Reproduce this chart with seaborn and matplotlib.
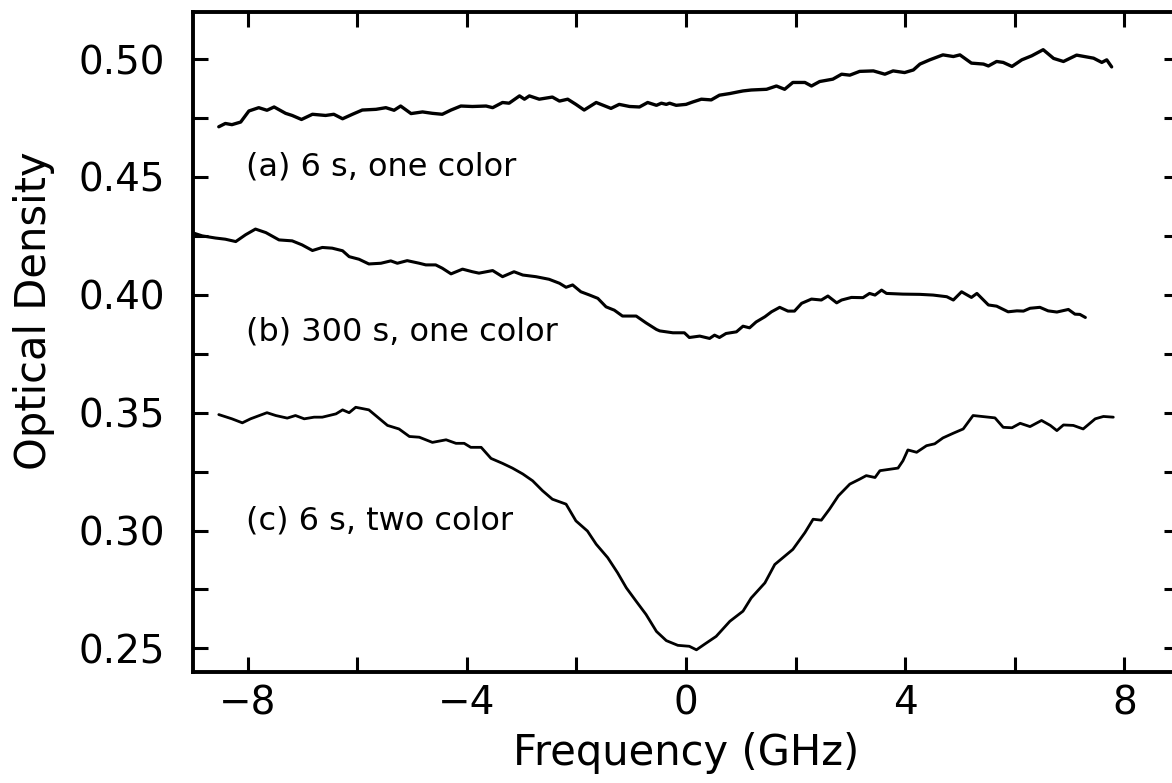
import seaborn as sns
import matplotlib.pyplot as plt
from matplotlib.ticker import MultipleLocator, FormatStrFormatter
import pandas as pd

# curve (a) 6 s, one color
freq_a = [-8.53, -8.41, -8.29, -8.13, -7.98, -7.80, -7.65, -7.52, -7.31, -7.19,
          -7.02, -6.82, -6.58, -6.43, -6.27, -6.09, -5.91, -5.66, -5.48, -5.33,
          -5.21, -5.02, -4.81, -4.63, -4.45, -4.29, -4.11, -3.90, -3.65, -3.53,
          -3.35, -3.23, -3.04, -2.95, -2.86, -2.68, -2.44, -2.31, -2.16, -2.01,
          -1.86, -1.64, -1.37, -1.22, -1.03, -0.85, -0.70, -0.54, -0.45, -0.36,
          -0.30, -0.18, 0.00, 0.12, 0.28, 0.46, 0.61, 0.80, 0.95, 1.04,
          1.19, 1.47, 1.65, 1.80, 1.95, 2.17, 2.29, 2.44, 2.68, 2.84,
          2.99, 3.17, 3.42, 3.63, 3.78, 3.99, 4.15, 4.27, 4.45, 4.69,
          4.88, 5.00, 5.21, 5.43, 5.52, 5.67, 5.79, 5.95, 6.13, 6.31,
          6.52, 6.71, 6.89, 7.13, 7.44, 7.59, 7.68, 7.77]
od_a = [0.4713, 0.4727, 0.4722, 0.4733, 0.4780, 0.4794, 0.4783, 0.4797, 0.4770, 0.4761,
        0.4744, 0.4766, 0.4761, 0.4766, 0.4747, 0.4766, 0.4784, 0.4787, 0.4794, 0.4783,
        0.4801, 0.4769, 0.4776, 0.4770, 0.4766, 0.4784, 0.4801, 0.4799, 0.4801, 0.4794,
        0.4816, 0.4813, 0.4844, 0.4830, 0.4844, 0.4830, 0.4839, 0.4822, 0.4830, 0.4808,
        0.4784, 0.4816, 0.4791, 0.4808, 0.4799, 0.4797, 0.4816, 0.4804, 0.4813, 0.4808,
        0.4813, 0.4804, 0.4808, 0.4818, 0.4830, 0.4827, 0.4847, 0.4854, 0.4861, 0.4865,
        0.4869, 0.4872, 0.4886, 0.4872, 0.4901, 0.4901, 0.4886, 0.4905, 0.4915, 0.4936,
        0.4932, 0.4948, 0.4950, 0.4936, 0.4950, 0.4943, 0.4954, 0.4979, 0.4997, 0.5018,
        0.5011, 0.5018, 0.4983, 0.4979, 0.4971, 0.4990, 0.4986, 0.4969, 0.4997, 0.5014,
        0.5040, 0.5003, 0.4990, 0.5017, 0.5004, 0.4986, 0.4997, 0.4967]

# curve (b) 300 s, one color
freq_b = [-8.99, -8.83, -8.59, -8.41, -8.22, -8.04, -7.86, -7.67, -7.43, -7.19,
          -7.01, -6.82, -6.64, -6.46, -6.27, -6.15, -5.97, -5.79, -5.57, -5.39,
          -5.27, -5.09, -4.87, -4.75, -4.57, -4.45, -4.29, -4.08, -3.90, -3.78,
          -3.53, -3.35, -3.14, -2.98, -2.74, -2.50, -2.31, -2.19, -2.07, -1.92,
          -1.76, -1.61, -1.46, -1.31, -1.16, -0.91, -0.73, -0.54, -0.48, -0.24,
          -0.03, 0.06, 0.25, 0.43, 0.52, 0.61, 0.73, 0.92, 1.04, 1.16,
          1.28, 1.44, 1.56, 1.71, 1.86, 1.98, 2.11, 2.29, 2.47, 2.59,
          2.75, 2.84, 3.02, 3.23, 3.35, 3.45, 3.57, 3.66, 3.96, 4.27,
          4.51, 4.76, 4.88, 5.03, 5.21, 5.31, 5.52, 5.67, 5.88, 6.04,
          6.16, 6.28, 6.46, 6.61, 6.77, 6.98, 7.10, 7.19, 7.29]
od_b = [0.4262, 0.4250, 0.4241, 0.4236, 0.4226, 0.4255, 0.4279, 0.4264, 0.4233, 0.4229,
        0.4212, 0.4188, 0.4201, 0.4198, 0.4187, 0.4162, 0.4151, 0.4131, 0.4134, 0.4144,
        0.4134, 0.4145, 0.4134, 0.4127, 0.4127, 0.4113, 0.4089, 0.4109, 0.4098, 0.4092,
        0.4103, 0.4077, 0.4098, 0.4084, 0.4077, 0.4066, 0.4049, 0.4032, 0.4042, 0.4013,
        0.3999, 0.3985, 0.3949, 0.3935, 0.3910, 0.3910, 0.3881, 0.3853, 0.3847, 0.3839,
        0.3839, 0.3819, 0.3825, 0.3815, 0.3829, 0.3819, 0.3836, 0.3843, 0.3867, 0.3860,
        0.3885, 0.3907, 0.3928, 0.3947, 0.3931, 0.3931, 0.3964, 0.3982, 0.3978, 0.3995,
        0.3966, 0.3978, 0.3989, 0.3988, 0.4006, 0.3999, 0.4020, 0.4006, 0.4003, 0.4002,
        0.3999, 0.3992, 0.3978, 0.4013, 0.3989, 0.4006, 0.3957, 0.3952, 0.3928, 0.3932,
        0.3931, 0.3943, 0.3947, 0.3932, 0.3927, 0.3938, 0.3918, 0.3917, 0.3904]

# curve (c) 6 s, two color
freq_c = [-8.53, -8.29, -8.10, -7.95, -7.65, -7.49, -7.28, -7.13, -6.97, -6.79,
          -6.64, -6.39, -6.27, -6.15, -6.03, -5.79, -5.63, -5.45, -5.24, -5.05,
          -4.87, -4.63, -4.38, -4.20, -4.05, -3.93, -3.74, -3.56, -3.35, -3.17,
          -2.98, -2.80, -2.62, -2.44, -2.19, -2.01, -1.80, -1.64, -1.43, -1.25,
          -1.09, -0.91, -0.73, -0.54, -0.36, -0.15, 0.06, 0.19, 0.34, 0.55,
          0.80, 1.04, 1.19, 1.44, 1.62, 1.95, 2.17, 2.32, 2.47, 2.62,
          2.78, 2.99, 3.17, 3.29, 3.45, 3.54, 3.87, 3.96, 4.05, 4.21,
          4.39, 4.54, 4.69, 4.88, 5.06, 5.24, 5.40, 5.64, 5.79, 5.95,
          6.10, 6.28, 6.49, 6.65, 6.77, 6.89, 7.07, 7.25, 7.47, 7.62, 7.80]
od_c = [0.3492, 0.3474, 0.3457, 0.3474, 0.3500, 0.3488, 0.3477, 0.3488, 0.3474, 0.3481,
        0.3481, 0.3495, 0.3512, 0.3500, 0.3523, 0.3512, 0.3481, 0.3446, 0.3431, 0.3399,
        0.3396, 0.3374, 0.3385, 0.3370, 0.3370, 0.3353, 0.3353, 0.3306, 0.3285, 0.3265,
        0.3240, 0.3211, 0.3169, 0.3133, 0.3112, 0.3041, 0.2998, 0.2942, 0.2885, 0.2821,
        0.2757, 0.2700, 0.2644, 0.2572, 0.2533, 0.2513, 0.2509, 0.2494, 0.2518, 0.2551,
        0.2615, 0.2658, 0.2714, 0.2778, 0.2856, 0.2920, 0.2991, 0.3048, 0.3044, 0.3091,
        0.3147, 0.3197, 0.3218, 0.3233, 0.3225, 0.3254, 0.3265, 0.3296, 0.3342, 0.3332,
        0.3360, 0.3368, 0.3393, 0.3413, 0.3431, 0.3488, 0.3484, 0.3478, 0.3438, 0.3436,
        0.3455, 0.3441, 0.3467, 0.3446, 0.3424, 0.3448, 0.3446, 0.3431, 0.3474, 0.3484, 0.3481]

labels = ["(a) 6 s, one color", "(b) 300 s, one color", "(c) 6 s, two color"]
label_y = [0.4544, 0.3843, 0.3041]

sns.set_style("ticks")
plt.rcParams['font.family'] = ['DejaVu Sans']
plt.rcParams.update({'text.color': 'black', 'axes.labelcolor': 'black',
                     'xtick.color': 'black', 'ytick.color': 'black',
                     'axes.edgecolor': 'black'})

fig = plt.figure(figsize=(11.72, 7.83), dpi=100)
ax = fig.add_axes([0.1647, 0.1418, 0.8413, 0.8429])

for f, od, lw in [(freq_a, od_a, 2.4), (freq_b, od_b, 2.2), (freq_c, od_c, 2.0)]:
    df = pd.DataFrame({'freq': f, 'od': od})
    sns.lineplot(data=df, x='freq', y='od', color='black', lw=lw,
                 estimator=None, sort=False, ax=ax)

# curve labels
for lab, ly in zip(labels, label_y):
    ax.text(-8.03, ly, lab, fontsize=23, va='center', ha='left')

ax.set_xlim(-9, 9)
ax.set_ylim(0.24, 0.52)
ax.xaxis.set_major_locator(MultipleLocator(4))
ax.xaxis.set_minor_locator(MultipleLocator(2))
ax.yaxis.set_major_locator(MultipleLocator(0.05))
ax.yaxis.set_minor_locator(MultipleLocator(0.025))
ax.yaxis.set_major_formatter(FormatStrFormatter('%.2f'))
ax.tick_params(which='both', direction='in', top=True, right=True,
               length=11, width=2.2)
ax.tick_params(axis='x', which='major', labelsize=28, pad=9)
ax.tick_params(axis='y', which='major', labelsize=28, pad=20)
for s in ax.spines.values():
    s.set_linewidth(2.8)
    s.set_visible(True)

ax.set_xlabel("Frequency (GHz)", fontsize=30, labelpad=7)
ax.set_ylabel("Optical Density", fontsize=30)
ax.yaxis.set_label_coords(-0.140, 0.548)

fig.savefig("out.png", dpi=100)
